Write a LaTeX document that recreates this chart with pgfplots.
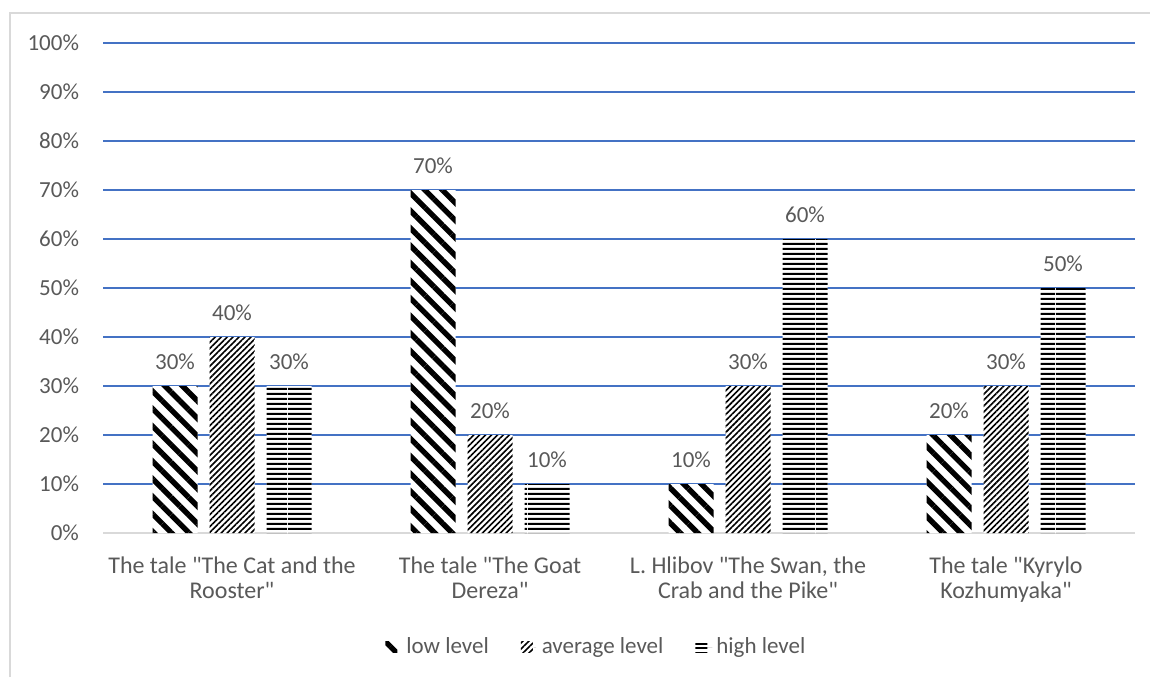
\documentclass[border=0pt]{standalone}
\usepackage{pgfplots}
\pgfplotsset{compat=1.18}
\usepackage{fontspec}
\setmainfont{Carlito}[Ligatures=TeXOff]
\usetikzlibrary{patterns.meta}
\definecolor{txt}{HTML}{595959}
\definecolor{gridblue}{HTML}{4472C4}
\definecolor{axgray}{HTML}{D9D9D9}
\tikzdeclarepattern{
  name=hlines,
  type=uncolored,
  bounding box={(0,0) and (24pt,2.3pt)},
  tile size={(24pt,2.3pt)},
  code={\fill (0,0) rectangle (24pt,1.15pt);}
}
\begin{document}
\begin{tikzpicture}
\useasboundingbox (0,0) rectangle (575pt,338.5pt);
\draw[axgray, line width=0.8pt] (5pt,0) -- (5pt,332pt) -- (575pt,332pt);
\begin{axis}[
  at={(51.5pt,72pt)}, anchor=south west,
  scale only axis, width=516pt, height=245pt,
  ybar, bar width=22.5pt, ybar=6pt,
  xmin=-0.5, xmax=3.5, ymin=0, ymax=100,
  xtick=data,
  xticklabels={{The tale "The Cat and the\\Rooster"},{The tale "The Goat\\Dereza"},{L. Hlibov "The Swan, the\\Crab and the Pike"},{The tale "Kyrylo\\Kozhumyaka"}},
  xticklabel style={align=center, font=\fontsize{12}{12.2}\selectfont, text=txt, yshift=-8.5pt},
  ytick={0,10,...,100},
  yticklabel={\pgfmathprintnumber{\tick}\%},
  yticklabel style={font=\fontsize{11.5}{13}\selectfont, text=txt, xshift=-8.5pt},
  /pgf/number format/assume math mode=true,
  major tick length=0pt,
  ymajorgrids, grid style={gridblue, line width=0.7pt},
  axis x line*=bottom, axis y line*=left,
  x axis line style={axgray, line width=0.8pt},
  y axis line style={draw=none},
  nodes near coords={\pgfmathprintnumber{\pgfplotspointmeta}\%},
  every node near coord/.append style={font=\fontsize{11.5}{13}\selectfont, text=txt, anchor=base, yshift=8.5pt},
  legend style={at={(0.479,-0.2327)}, anchor=center, draw=none, fill=none,
    font=\fontsize{11.5}{13}\selectfont, text=txt, legend columns=3,
    /tikz/every even column/.append style={column sep=14pt}},
  legend image code/.code={\path (0pt,0pt) -- (8.5pt,0pt);\draw[#1, draw=none] (0pt,-2.7pt) rectangle (6pt,2.7pt);},
]
\addplot[draw=none, fill=white, postaction={pattern={Lines[angle=-45,distance=6.2pt,line width=2.7pt]}, pattern color=black}]
  coordinates {(0,30) (1,70) (2,10) (3,20)};
\addplot[draw=none, fill=white, postaction={pattern={Lines[angle=45,distance=2.1pt,line width=0.8pt]}, pattern color=black}]
  coordinates {(0,40) (1,20) (2,30) (3,30)};
\addplot[draw=none, fill=white, postaction={pattern=hlines, pattern color=black}]
  coordinates {(0,30) (1,10) (2,60) (3,50)};
\legend{low level, average level, high level}
\end{axis}
\end{tikzpicture}
\end{document}
